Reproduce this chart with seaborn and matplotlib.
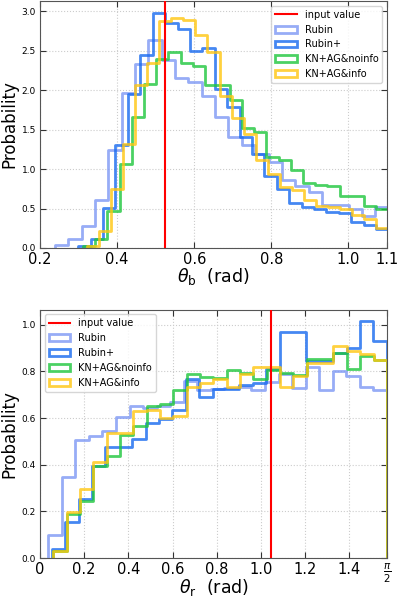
import numpy as np
import seaborn as sns
import matplotlib
matplotlib.use('Agg')
import matplotlib.pyplot as plt
from matplotlib.patches import Patch
from matplotlib.lines import Line2D

# series names and colours
labels = ['Rubin', 'Rubin+', 'KN+AG&noinfo', 'KN+AG&info']
colors = ['#7d98f4', '#1769ef', '#1ec63c', '#ffc60f']

# theta_b panel: bin range (first edge, last edge) and heights for each series
tb_ranges = [(0.239, 1.104), (0.299, 1.104), (0.311, 1.104), (0.321, 1.104)]
tb_rubin = [0.04, 0.12, 0.28, 0.61, 1.24, 1.96, 2.33, 2.64, 2.38, 2.16, 2.10, 1.93, 1.66,
            1.40, 1.31, 1.19, 1.09, 0.86, 0.79, 0.71, 0.55, 0.54, 0.50, 0.40, 0.52]
tb_rubinp = [0.02, 0.11, 0.51, 1.30, 1.95, 2.45, 2.98, 2.85, 2.77, 2.49, 2.53, 2.01, 1.79,
             1.40, 1.19, 0.91, 0.75, 0.57, 0.52, 0.50, 0.46, 0.44, 0.33, 0.29, 0.24]
tb_noinfo = [0.03, 0.12, 0.47, 1.07, 1.66, 2.08, 2.40, 2.48, 2.34, 2.30, 2.07, 2.07, 1.87,
             1.52, 1.47, 1.15, 1.11, 0.99, 0.82, 0.80, 0.78, 0.66, 0.66, 0.53, 0.50]
tb_info = [0.02, 0.21, 0.75, 1.32, 2.06, 2.35, 2.87, 2.92, 2.89, 2.70, 2.48, 1.93, 1.65,
           1.45, 1.11, 0.94, 0.77, 0.73, 0.61, 0.53, 0.52, 0.50, 0.42, 0.37, 0.25]
tb_true = np.pi / 6

# theta_r panel
tr_ranges = [(0.0376, 1.570), (0.053, 1.570), (0.060, 1.570), (0.060, 1.570)]
tr_rubin = [0.10, 0.346, 0.504, 0.524, 0.543, 0.604, 0.652, 0.645, 0.652, 0.67, 0.76, 0.72, 0.725,
            0.73, 0.735, 0.72, 0.755, 0.79, 0.73, 0.82, 0.72, 0.80, 0.78, 0.735, 0.72]
tr_rubinp = [0.04, 0.155, 0.255, 0.395, 0.477, 0.477, 0.51, 0.577, 0.595, 0.634, 0.767, 0.69, 0.724,
             0.724, 0.743, 0.75, 0.81, 0.967, 0.967, 0.843, 0.843, 0.878, 0.90, 1.014, 0.929]
tr_noinfo = [0.029, 0.19, 0.245, 0.393, 0.436, 0.529, 0.567, 0.65, 0.66, 0.722, 0.79, 0.777, 0.771,
             0.807, 0.792, 0.767, 0.804, 0.795, 0.785, 0.853, 0.853, 0.878, 0.81, 0.864, 0.85]
tr_info = [0.03, 0.199, 0.296, 0.412, 0.534, 0.534, 0.628, 0.634, 0.598, 0.609, 0.732, 0.752, 0.767,
           0.732, 0.79, 0.818, 0.818, 0.732, 0.781, 0.836, 0.836, 0.907, 0.886, 0.876, 0.85]
tr_true = np.pi / 3


def draw_panel(ax, ranges, series, truth):
    ax.axvline(truth, color='red', lw=1.5, zorder=5)
    for (lo, hi), vals, c in zip(ranges, series, colors):
        vals = np.asarray(vals)
        edges = np.linspace(lo, hi, len(vals) + 1)
        centers = (edges[:-1] + edges[1:]) / 2
        # tiny empty bins on both sides so the step drops back to zero
        bins = [lo - 1e-6] + edges.tolist() + [hi + 1e-6]
        sns.histplot(x=centers, weights=vals, bins=bins, element='step', fill=False,
                     color=c, linewidth=2, alpha=0.8, ax=ax)
    ax.grid(True, ls=':', color='#cccccc', lw=0.8)
    ax.set_axisbelow(True)
    ax.tick_params(direction='in', top=True, right=True, length=4, color='#333333')
    ax.tick_params(axis='x', labelsize=10.5, pad=3)
    ax.tick_params(axis='y', labelsize=6.5, pad=3)
    for s in ax.spines.values():
        s.set_color('#555555')
    ax.set_ylabel('Probability', fontsize=12, labelpad=2)
    handles = [Line2D([], [], color='red', lw=1.5)] + \
              [Patch(facecolor='none', edgecolor=c, lw=2, alpha=0.8) for c in colors]
    return handles


fig = plt.figure(figsize=(3.99, 6.01), dpi=100)
ax1 = fig.add_axes([0.1003, 0.5874, 0.8697, 0.4110])
ax2 = fig.add_axes([0.1003, 0.0715, 0.8697, 0.4135])

h = draw_panel(ax1, tb_ranges, [tb_rubin, tb_rubinp, tb_noinfo, tb_info], tb_true)
ax1.set_xlim(0.2, 1.1)
ax1.set_ylim(0, 3.13)
ax1.set_xticks([0.2, 0.4, 0.6, 0.8, 1.0, 1.1])
ax1.set_xticklabels(['0.2', '0.4', '0.6', '0.8', '1.0', '1.1'])
ax1.set_yticks(np.arange(0, 3.01, 0.5))
ax1.set_xlabel(r'$\theta_{\rm b}$  (rad)', fontsize=12.5, va='center')
ax1.xaxis.set_label_coords(0.5, -0.115)
ax1.legend(h, ['input value'] + labels, loc='upper right', fontsize=7, handlelength=2.2)

h = draw_panel(ax2, tr_ranges, [tr_rubin, tr_rubinp, tr_noinfo, tr_info], tr_true)
ax2.set_xlim(0, np.pi / 2)
ax2.set_ylim(0, 1.065)
ax2.set_xticks([0, 0.2, 0.4, 0.6, 0.8, 1.0, 1.2, 1.4, np.pi / 2])
ax2.set_xticklabels(['0', '0.2', '0.4', '0.6', '0.8', '1.0', '1.2', '1.4', r'$\frac{\pi}{2}$'])
ax2.set_yticks(np.arange(0, 1.01, 0.2))
ax2.set_xlabel(r'$\theta_{\rm r}$  (rad)', fontsize=12.5, va='center')
ax2.xaxis.set_label_coords(0.5, -0.118)
ax2.legend(h, ['input value'] + labels, loc='upper left', fontsize=7, handlelength=2.2)

fig.savefig('out.png', dpi=100)
